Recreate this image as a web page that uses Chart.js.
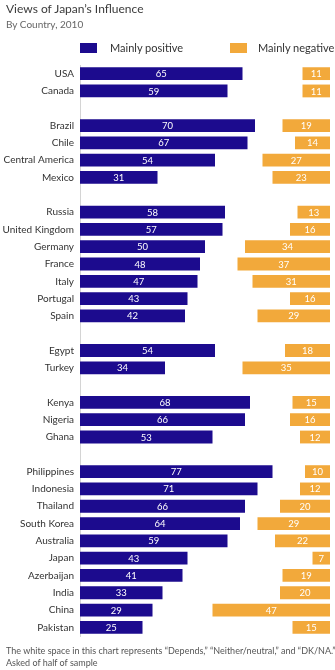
<!DOCTYPE html>
<html>
<head>
<meta charset="utf-8">
<script src="https://cdn.jsdelivr.net/npm/chart.js@4/dist/chart.umd.min.js"></script>
<style>
    body { margin: 0; background: #fff; font-family: Lato, sans-serif; }
    #wrap { position: relative; width: 335px; height: 670px; overflow: hidden; }
    #grafico { position: absolute; left: 0; top: 0; }
    .titolo { position: absolute; left: 6px; top: 1px; font-size: 12px; color: #3a3a3a; }
    .sottotitolo { position: absolute; left: 6px; top: 18px; font-size: 10px; color: #666; }
    .leg-box { position: absolute; top: 43px; width: 17px; height: 10px; }
    .leg-txt { position: absolute; top: 41px; font-size: 11px; color: #333; }
    .nota { position: absolute; left: 6px; top: 645px; font-size: 9px; color: #555; line-height: 12px; white-space: nowrap; }
</style>
</head>
<body>
<div id="wrap">
    <canvas id="grafico" width="335" height="670"></canvas>
    <div class="titolo">Views of Japan’s Influence</div>
    <div class="sottotitolo">By Country, 2010</div>
    <div class="leg-box" style="left:80px; background:#1c0b8e;"></div>
    <div class="leg-txt" style="left:110px;">Mainly positive</div>
    <div class="leg-box" style="left:230px; background:#f2a93b;"></div>
    <div class="leg-txt" style="left:258px;">Mainly negative</div>
    <div class="nota">The white space in this chart represents “Depends,” “Neither/neutral,” and “DK/NA.”<br>Asked of half of sample</div>
</div>
<script>
var paesi = ['USA', 'Canada', '',
    'Brazil', 'Chile', 'Central America', 'Mexico', '',
    'Russia', 'United Kingdom', 'Germany', 'France', 'Italy', 'Portugal', 'Spain', '',
    'Egypt', 'Turkey', '',
    'Kenya', 'Nigeria', 'Ghana', '',
    'Philippines', 'Indonesia', 'Thailand', 'South Korea', 'Australia', 'Japan', 'Azerbaijan', 'India', 'China', 'Pakistan'];

var positivi = [65, 59, null,
    70, 67, 54, 31, null,
    58, 57, 50, 48, 47, 43, 42, null,
    54, 34, null,
    68, 66, 53, null,
    77, 71, 66, 64, 59, 43, 41, 33, 29, 25];

var negativi = [11, 11, null,
    19, 14, 27, 23, null,
    13, 16, 34, 37, 31, 16, 29, null,
    18, 35, null,
    15, 16, 12, null,
    10, 12, 20, 29, 22, 7, 19, 20, 47, 15];

// le barre negative finiscono sempre a 100, lo spazio bianco in mezzo e' il resto
var barreNegative = negativi.map(function (v) {
    return v === null ? null : [100 - v, 100];
});

var etichetteValori = {
    id: 'etichetteValori',
    afterDatasetsDraw: function (chart) {
        var ctx = chart.ctx;
        ctx.save();
        ctx.font = '9.5px Lato, sans-serif';
        ctx.fillStyle = '#ffffff';
        ctx.textAlign = 'center';
        ctx.textBaseline = 'middle';
        chart.data.datasets.forEach(function (ds, i) {
            var meta = chart.getDatasetMeta(i);
            meta.data.forEach(function (bar, j) {
                var valore = i === 0 ? positivi[j] : negativi[j];
                if (valore === null) return;
                ctx.fillText(valore, (bar.x + bar.base) / 2, bar.y + 0.5);
            });
        });
        ctx.restore();
    }
};

var chart = new Chart(document.getElementById('grafico'), {
    type: 'bar',
    data: {
        labels: paesi,
        datasets: [{
            label: 'Mainly positive',
            data: positivi,
            backgroundColor: '#1c0b8e',
            grouped: false
        }, {
            label: 'Mainly negative',
            data: barreNegative,
            backgroundColor: '#f2a93b',
            grouped: false
        }]
    },
    options: {
        indexAxis: 'y',
        responsive: false,
        animation: false,
        categoryPercentage: 1,
        barPercentage: 0.74,
        layout: { padding: { top: 65, bottom: 34, left: 0, right: 5 } },
        plugins: {
            legend: { display: false },
            tooltip: { enabled: false }
        },
        scales: {
            x: {
                display: false,
                min: 0,
                max: 100
            },
            y: {
                afterFit: function (scale) { scale.width = 80; },
                grid: { display: false, drawTicks: false },
                border: { display: true, color: '#d4d4d4', width: 1 },
                ticks: {
                    autoSkip: false,
                    padding: 6,
                    color: '#333',
                    font: { family: 'Lato, sans-serif', size: 10 }
                }
            }
        }
    },
    plugins: [etichetteValori]
});
</script>
</body>
</html>
